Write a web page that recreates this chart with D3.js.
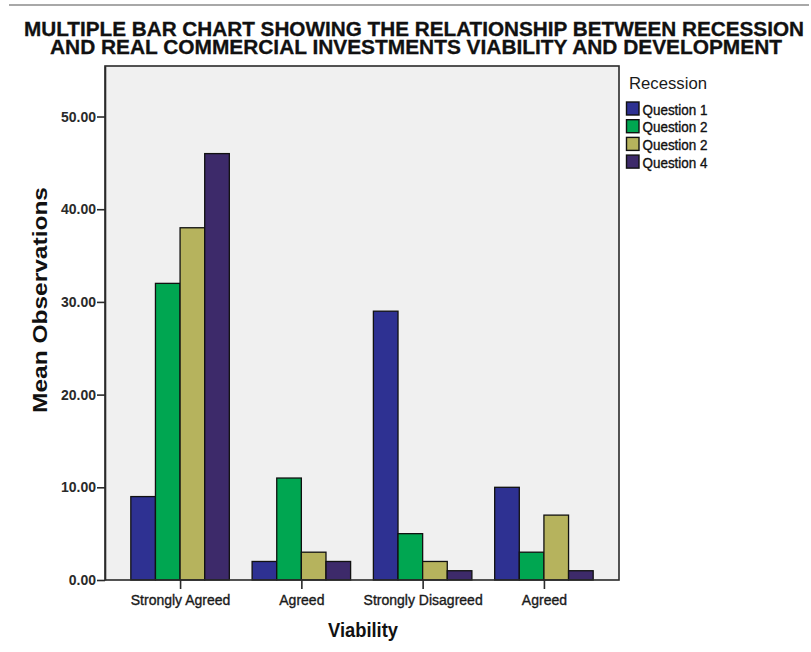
<!DOCTYPE html>
<html>
<head>
<meta charset="utf-8">
<script src="https://cdn.jsdelivr.net/npm/d3@7"></script>
<style>
  html, body { margin: 0; padding: 0; background: #ffffff; }
  svg { display: block; }
  text { font-family: "Liberation Sans", Arial, sans-serif; }
</style>
</head>
<body>
<svg id="chart" width="811" height="652"></svg>
<script>
// Viability categories along the x axis
const categories = ["Strongly Agreed", "Agreed", "Strongly Disagreed", "Agreed"];
// Recession series (legend order)
const seriesNames = ["Question 1", "Question 2", "Question 2", "Question 4"];
const seriesColors = ["#2e3192", "#00a651", "#b6b35d", "#3d2a6a"];
// Mean observations per category, one array per series
const question1 = [9, 2, 29, 10];
const question2 = [32, 11, 5, 3];
const question3 = [38, 3, 2, 7];
const question4 = [46, 2, 1, 1];
const yTicks = [0, 10, 20, 30, 40, 50];
const titleLines = [
  "MULTIPLE BAR CHART SHOWING THE RELATIONSHIP BETWEEN RECESSION",
  "AND REAL COMMERCIAL INVESTMENTS VIABILITY AND DEVELOPMENT"
];

const seriesValues = [question1, question2, question3, question4];

const svg = d3.select("#chart");

// plot frame
const frame = { left: 105, top: 66, right: 619, bottom: 580 };

// thin rule at the very top of the page
svg.append("line")
  .attr("x1", 9).attr("x2", 809).attr("y1", 5).attr("y2", 5)
  .attr("stroke", "#a8a8a8").attr("stroke-width", 2);

// title: two condensed bold lines
const titleX = [24, 50];
const titleY = [36, 53.5];
const titleW = [780, 732];
titleLines.forEach((t, i) => {
  svg.append("text")
    .attr("x", titleX[i]).attr("y", titleY[i])
    .attr("font-family", "'Liberation Sans Narrow', 'Liberation Sans', Arial, sans-serif")
    .attr("font-size", 21).attr("font-weight", "bold")
    .attr("fill", "#111")
    .attr("stroke", "#111").attr("stroke-width", 0.3)
    .attr("textLength", titleW[i]).attr("lengthAdjust", "spacingAndGlyphs")
    .text(t);
});

// scales
const x = d3.scalePoint()
  .domain(d3.range(categories.length))
  .range([frame.left, frame.right])
  .padding(0.619);

const groupWidth = 98.5;
const xInner = d3.scaleBand()
  .domain(d3.range(seriesNames.length))
  .range([-groupWidth / 2, groupWidth / 2])
  .padding(0);

const y = d3.scaleLinear()
  .domain([0, 55.45])
  .range([frame.bottom, frame.top]);

// plot background
svg.append("rect")
  .attr("x", frame.left).attr("y", frame.top)
  .attr("width", frame.right - frame.left)
  .attr("height", frame.bottom - frame.top)
  .attr("fill", "#f0f0f0");

// bars
const barData = [];
categories.forEach((c, ci) => {
  seriesValues.forEach((vals, si) => {
    barData.push({ ci, si, v: vals[ci] });
  });
});

svg.append("g")
  .selectAll("rect")
  .data(barData)
  .join("rect")
  .attr("x", d => x(d.ci) + xInner(d.si))
  .attr("y", d => y(d.v))
  .attr("width", xInner.bandwidth())
  .attr("height", d => y(0) - y(d.v))
  .attr("fill", d => seriesColors[d.si])
  .attr("stroke", "#111")
  .attr("stroke-width", 1.3);

// frame outline
svg.append("rect")
  .attr("x", frame.left).attr("y", frame.top)
  .attr("width", frame.right - frame.left)
  .attr("height", frame.bottom - frame.top)
  .attr("fill", "none")
  .attr("stroke", "#2a2a2a")
  .attr("stroke-width", 1.6);

// y axis
const yAxis = d3.axisLeft(y)
  .tickValues(yTicks)
  .tickFormat(d3.format(".2f"))
  .tickSize(8)
  .tickSizeOuter(0)
  .tickPadding(1);

const gy = svg.append("g")
  .attr("transform", `translate(${frame.left},0)`)
  .call(yAxis);
gy.select(".domain").attr("stroke", "#2a2a2a").attr("stroke-width", 1.6);
gy.selectAll(".tick line").attr("stroke", "#2a2a2a").attr("stroke-width", 1.6);
gy.selectAll(".tick text")
  .attr("font-family", "Liberation Sans, Arial, sans-serif")
  .attr("font-size", 14).attr("font-weight", "bold")
  .attr("fill", "#2a2a2a");

// x axis
const xAxis = d3.axisBottom(x)
  .tickFormat(i => categories[i])
  .tickSize(9)
  .tickSizeOuter(0)
  .tickPadding(6);

const gx = svg.append("g")
  .attr("transform", `translate(0,${frame.bottom})`)
  .call(xAxis);
gx.select(".domain").remove();
gx.selectAll(".tick line").attr("stroke", "#2a2a2a").attr("stroke-width", 1.6);
gx.selectAll(".tick text")
  .attr("font-family", "Liberation Sans, Arial, sans-serif")
  .attr("font-size", 14)
  .attr("fill", "#1a1a1a")
  .attr("stroke", "#1a1a1a").attr("stroke-width", 0.35);

// axis titles
svg.append("text")
  .attr("x", (frame.left + frame.right) / 2 + 1).attr("y", 636.5)
  .attr("text-anchor", "middle")
  .attr("font-size", 21).attr("font-weight", "bold")
  .attr("fill", "#111")
  .attr("textLength", 70).attr("lengthAdjust", "spacingAndGlyphs")
  .text("Viability");

svg.append("text")
  .attr("transform", "translate(46.5,300) rotate(-90)")
  .attr("text-anchor", "middle")
  .attr("font-size", 21).attr("font-weight", "bold")
  .attr("fill", "#111")
  .attr("textLength", 226).attr("lengthAdjust", "spacingAndGlyphs")
  .text("Mean Observations");

// legend
const legend = svg.append("g").attr("transform", "translate(626,0)");
legend.append("text")
  .attr("x", 3).attr("y", 89)
  .attr("font-size", 16.5)
  .attr("fill", "#1a1a1a")
  .attr("textLength", 78).attr("lengthAdjust", "spacingAndGlyphs")
  .text("Recession");

const rowY = d3.scaleLinear().domain([0, 1]).range([102, 119.7]);
const items = legend.selectAll("g.item")
  .data(seriesNames)
  .join("g")
  .attr("class", "item")
  .attr("transform", (d, i) => `translate(0,${rowY(i)})`);

items.append("rect")
  .attr("x", 0.5).attr("y", 0)
  .attr("width", 12.5).attr("height", 13)
  .attr("fill", (d, i) => seriesColors[i])
  .attr("stroke", "#111").attr("stroke-width", 1.4);

items.append("text")
  .attr("x", 16.5).attr("y", 12.5)
  .attr("font-size", 14)
  .attr("fill", "#111")
  .attr("stroke", "#111").attr("stroke-width", 0.35)
  .attr("textLength", 65).attr("lengthAdjust", "spacingAndGlyphs")
  .text(d => d);
</script>
</body>
</html>
